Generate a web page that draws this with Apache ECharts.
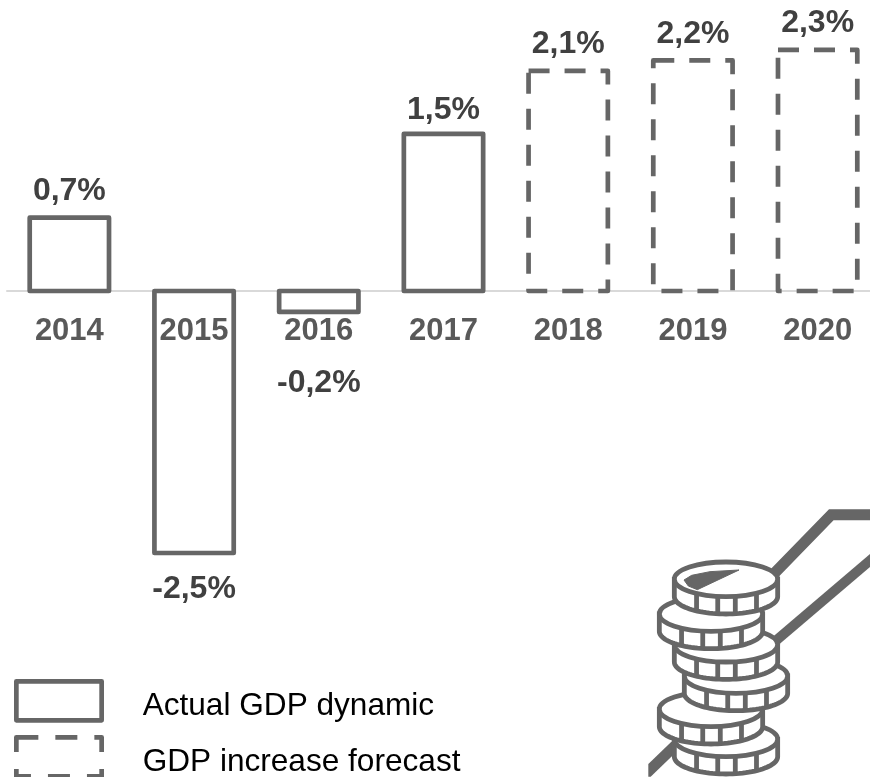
<!DOCTYPE html>
<html><head><meta charset="utf-8">
<style>html,body{margin:0;padding:0;background:#fff}#c{width:870px;height:777px}</style>
<script src="https://cdn.jsdelivr.net/npm/echarts@6/dist/echarts.min.js"></script>
</head><body><div id="c"></div>
<script>
const categories = ['2014','2015','2016','2017','2018','2019','2020'];
const actualValues = [0.7,-2.5,-0.2,1.5,null,null,null];
const forecastValues = [null,null,null,null,2.1,2.2,2.3];
const seriesNames = ['Actual GDP dynamic','GDP increase forecast'];
const FONT = '"Liberation Sans", Arial, sans-serif';
const GREY = '#666666';
const STROKE = 4.7, DASH = [21,15], BAR_W = 79.3;

function fmt(v){ return v.toFixed(1).replace('.',',') + '%'; }
function labelGap(v){ if(v>=0) return v===1.5?5:8; return v>-1?53:18; }

function renderBar(dash){
  return function(params, api){
    const v = api.value(1);
    const top = api.coord([api.value(0), v]);
    const base = api.coord([api.value(0), 0]);
    const y = Math.min(top[1], base[1]), h = Math.abs(top[1]-base[1]);
    return {
      type:'rect',
      shape:{x:top[0]-BAR_W/2, y:y, width:BAR_W, height:h},
      style:{fill:'rgba(0,0,0,0)',stroke:GREY,lineWidth:STROKE,lineDash:dash?DASH:null,lineJoin:'round'},
      textContent:{type:'text',style:{text:fmt(v),fontFamily:FONT,fontSize:32,fontWeight:'bold',fill:'#404040'}},
      textConfig:{position:v>=0?'top':'bottom',distance:labelGap(v)}
    };
  };
}
function rows(values){
  return values.map((v,i)=>[i,v]).filter(r=>r[1]!==null);
}

// coin-stack icon (decoration), geometry in a local 3x grid anchored at (620,490)
const X = v => 620 + v/3, Y = v => 490 + v/3;
const ICON_W = 4.8;
const iconStyle = {stroke:GREY,lineWidth:ICON_W,fill:'#fff'};
function coin(cx,topY){
  const rx=155/3, ry=52/3, d=52/3, c=X(cx), t=Y(topY);
  const els=[];
  const b=t+d;
  const pts=[[c-rx,t]];
  for(let i=0;i<=48;i++){const a=Math.PI*i/48;pts.push([c-rx*Math.cos(a),b+ry*Math.sin(a)]);}
  pts.push([c+rx,t]);
  els.push({type:'polygon',z:10,shape:{points:pts},style:iconStyle});
  [-0.57,-0.16,0.18,0.59].forEach(f=>{
    const x=c+f*rx, s=Math.sqrt(1-f*f)*ry;
    els.push({type:'line',z:11,shape:{x1:x,y1:t+s,x2:x,y2:b+s},style:{stroke:GREY,lineWidth:ICON_W}});
  });
  els.push({type:'ellipse',z:12,shape:{cx:c,cy:t,rx:rx,ry:ry},style:iconStyle});
  return els;
}
function poly(pts){return pts.map(p=>[X(p[0]),Y(p[1])]);}
const iconEls = [
  {type:'polyline',z:5,shape:{points:poly([[462,251],[634,74],[760,74]])},style:{stroke:GREY,lineWidth:11,fill:null}},
  {type:'polyline',z:5,shape:{points:poly([[470,450],[760,203]])},style:{stroke:GREY,lineWidth:10,fill:null}},
  {type:'polygon',z:5,shape:{points:poly([[85,822],[165,745],[165,790],[92,860],[85,860]])},style:{fill:GREY}},
];
[[318,748],[273,658],[348,558],[318,464],[273,372],[318,268]].forEach((p,i)=>{
  iconEls.push(...coin(p[0],p[1]).map(e=>Object.assign(e,{z:e.z+i*10})));
});
iconEls.push({type:'polygon',z:80,shape:{points:poly([[192,270],[215,256],[270,245],[357,240],[232,299],[205,288]])},style:{fill:GREY,stroke:GREY,lineWidth:1,lineJoin:'round'}});

const chart = echarts.init(document.getElementById('c'),null,{renderer:'canvas'});
chart.setOption({
  animation:false,
  backgroundColor:'#fff',
  grid:{left:7,width:873,top:29,height:576.4,containLabel:false,outerBoundsMode:'none'},
  xAxis:{type:'category',data:categories,
    axisLine:{onZero:true,lineStyle:{color:'#d9d9d9',width:2}},
    axisTick:{show:false},
    axisLabel:{fontFamily:FONT,fontSize:31,fontWeight:'bold',color:'#595959',margin:-289,interval:0}},
  yAxis:{type:'value',min:-3,max:2.5,show:false,splitLine:{show:false}},
  legend:{left:14,top:679,height:120,width:480,padding:0,orient:'vertical',itemWidth:85.3,itemHeight:39,itemGap:12.3,icon:'rect',
    data:[
      {name:seriesNames[0],itemStyle:{color:'rgba(0,0,0,0)',borderColor:GREY,borderWidth:STROKE,borderType:'solid',borderJoin:'round'}},
      {name:seriesNames[1],itemStyle:{color:'rgba(0,0,0,0)',borderColor:GREY,borderWidth:STROKE,borderType:[22,17],borderJoin:'round'}}
    ],
    formatter:'{a|{name}}',
    textStyle:{fontFamily:FONT,fontSize:31.6,color:'#000',rich:{a:{fontFamily:FONT,fontSize:31.6,color:'#000',padding:[10,0,0,36]}}}},
  series:[
    {name:seriesNames[0],type:'custom',renderItem:renderBar(false),clip:false,encode:{x:0,y:1},data:rows(actualValues)},
    {name:seriesNames[1],type:'custom',renderItem:renderBar(true),clip:false,encode:{x:0,y:1},data:rows(forecastValues)}
  ],
  graphic:{elements:iconEls}
});
</script></body></html>
